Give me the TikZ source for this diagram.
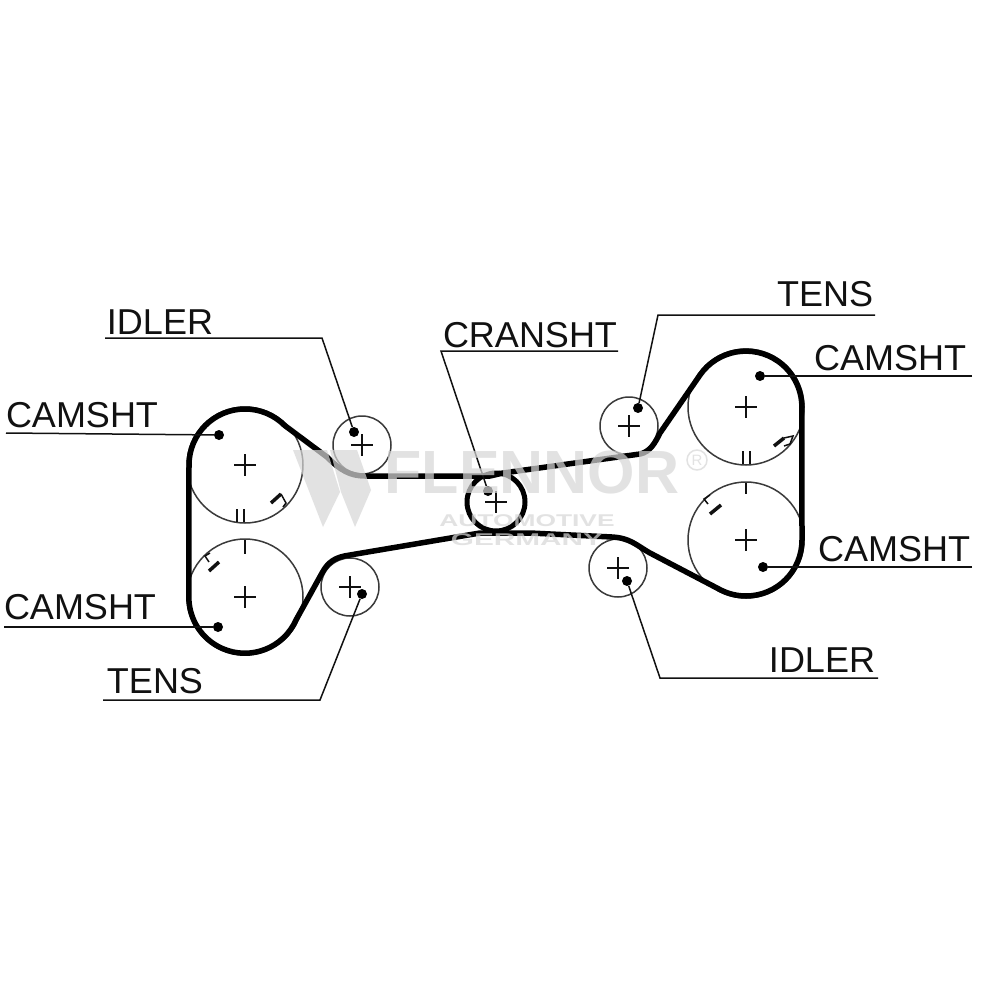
\documentclass[tikz,border=0pt]{standalone}
\usepackage{fontspec}
\setmainfont{Liberation Sans}
\definecolor{ink}{HTML}{111111}
\definecolor{wheel}{HTML}{3A3A3A}
\definecolor{wm}{gray}{0.845}
\usetikzlibrary{calc}
\tikzset{
 pulley/.style={draw=wheel,line width=1.5pt},
 belt/.style={draw=black,line width=5.5pt,line join=round},
 leader/.style={draw=ink,line width=1.5pt},
 tag/.style={font=\fontsize{36}{36}\selectfont,text=ink,inner sep=0pt,anchor=center},
 pin/.style={circle,fill=black,inner sep=0pt,minimum size=10pt},
 hub/.style={draw=ink,line width=1.5pt},
 tick/.style={draw=ink,line width=1.5pt},
 notch/.style={draw=ink,line width=3.5pt},
 wmtext/.style={text=wm,text opacity=0.71,inner sep=0pt},
}
\newcommand{\plus}[1]{\draw[hub] ($(#1)+(-11,0)$) -- ($(#1)+(11,0)$) ($(#1)+(0,-11)$) -- ($(#1)+(0,11)$);}
\begin{document}
\begin{tikzpicture}[x=1pt,y=-1pt]
\useasboundingbox (0,0) rectangle (1000,1000);
\fill[white] (0,0) rectangle (1000,1000);
% pulley centres
\coordinate (camUL) at (245,465);
\coordinate (camLL) at (245,597);
\coordinate (camUR) at (746,407);
\coordinate (camLR) at (746,540);
\coordinate (idlerL) at (362,445);
\coordinate (tensL) at (350,587);
\coordinate (tensR) at (629,426);
\coordinate (idlerR) at (618,568);
\coordinate (crank) at (496,502);
% pulleys
\foreach \c in {camUL,camLL,camUR,camLR}{\draw[pulley] (\c) circle[radius=58];}
\foreach \c in {idlerL,tensL,tensR,idlerR}{\draw[pulley] (\c) circle[radius=29];}
\foreach \c in {camUL,camLL,camUR,camLR,idlerL,tensL,tensR,idlerR,crank}{\plus{\c}}
% timing marks
\draw[tick] (237,509) -- (237,522) (244,509) -- (244,522);
\draw[tick] (245,540) -- (245,554);
\draw[tick] (743,451) -- (743,464) (750,451) -- (750,464);
\draw[tick] (746,483) -- (746,494);
\draw[notch] (271,503) -- (281,494);
\draw[notch] (209,571) -- (219,562);
\draw[notch] (774,446) -- (784,438);
\draw[notch] (710,514) -- (721,505);
\draw[tick] (281,494) -- (286,503) -- (283,507);
\draw[tick] (209,562) -- (205,556) -- (210,553);
\draw[tick] (784,438) -- (793,436) -- (790,444) -- (784,446);
\draw[tick] (708,504) -- (704,499) -- (710,495);
% belt
\draw[belt] (189,465) arc[start angle=180,end angle=315,radius=56]
  -- (327,457) .. controls (340,470) and (350,476) .. (365,476)
  -- (490,476) -- (503,473) -- (640,454)
  .. controls (650,452) and (655,443) .. (660,433)
  -- (700,375) arc[start angle=215,end angle=360,radius=56]
  -- (802,540) arc[start angle=0,end angle=117,radius=56]
  -- (650,553) .. controls (636,545) and (630,538) .. (612,537)
  -- (530,533) -- (480,533) -- (350,555)
  .. controls (335,557) and (328,562) .. (322,573)
  -- (296,620) arc[start angle=24,end angle=180,radius=56]
  -- cycle;
\draw[belt,line width=5pt] (crank) circle[radius=29];
% pins
\node[pin] (pIdlerL) at (354,432) {};
\node[pin] (pTensL) at (362,594) {};
\node[pin] (pCrank) at (488,491) {};
\node[pin] (pTensR) at (638,408) {};
\node[pin] (pIdlerR) at (627,581) {};
\node[pin] (pCamUL) at (219,435) {};
\node[pin] (pCamLL) at (218,627) {};
\node[pin] (pCamUR) at (760,376) {};
\node[pin] (pCamLR) at (763,567) {};
% labels
\node[tag] (tIdlerL) at (160,322) {IDLER};
\node[tag] (tCamUL) at (82,415) {CAMSHT};
\node[tag] (tCamLL) at (80,607) {CAMSHT};
\node[tag] (tTensL) at (155,681) {TENS};
\node[tag] (tCrank) at (530,335) {CRANSHT};
\node[tag] (tTensR) at (825,294) {TENS};
\node[tag] (tCamUR) at (890,358) {CAMSHT};
\node[tag] (tCamLR) at (894,549) {CAMSHT};
\node[tag] (tIdlerR) at (822,660) {IDLER};
% leaders
\coordinate (a1) at (105,338); \coordinate (a2) at (322,338);
\draw[leader] (a1) -- (a2) -- (pIdlerL);
\coordinate (b1) at (6,433);
\draw[leader] (b1) -- (pCamUL);
\coordinate (c1) at (4,627);
\draw[leader] (c1) -- (pCamLL);
\coordinate (d1) at (103,700); \coordinate (d2) at (320,700);
\draw[leader] (d1) -- (d2) -- (pTensL);
\coordinate (e1) at (618,351); \coordinate (e2) at (441,351);
\draw[leader] (e1) -- (e2) -- (pCrank);
\coordinate (f1) at (875,315); \coordinate (f2) at (658,315);
\draw[leader] (f1) -- (f2) -- (pTensR);
\coordinate (g1) at (972,376);
\draw[leader] (g1) -- (pCamUR);
\coordinate (h1) at (972,567);
\draw[leader] (h1) -- (pCamLR);
\coordinate (i1) at (878,678); \coordinate (i2) at (660,678);
\draw[leader] (i1) -- (i2) -- (pIdlerR);
% watermark
\fill[wm,opacity=0.71] (293,450) -- (327,450) -- (340,492) -- (323,527) -- cycle;
\fill[wm,opacity=0.71] (330,450) -- (357,450) -- (371,490) -- (355,527) -- (341,492) -- cycle;
\node[wmtext,font=\bfseries\fontsize{61}{61}\selectfont] (wm1) at (532,472) {FLENNOR};
\node[wmtext,font=\bfseries\fontsize{17}{17}\selectfont,xscale=1.55] (wm2) at (527,521) {AUTOMOTIVE};
\node[wmtext,font=\bfseries\fontsize{17}{17}\selectfont,xscale=1.75] (wm3) at (527,540) {GERMANY};
\node[wmtext,font=\fontsize{15}{15}\selectfont,draw=wm,draw opacity=0.71,line width=1.5pt,circle,minimum size=20pt] (wm4) at (697,460) {R};
\end{tikzpicture}
\end{document}
